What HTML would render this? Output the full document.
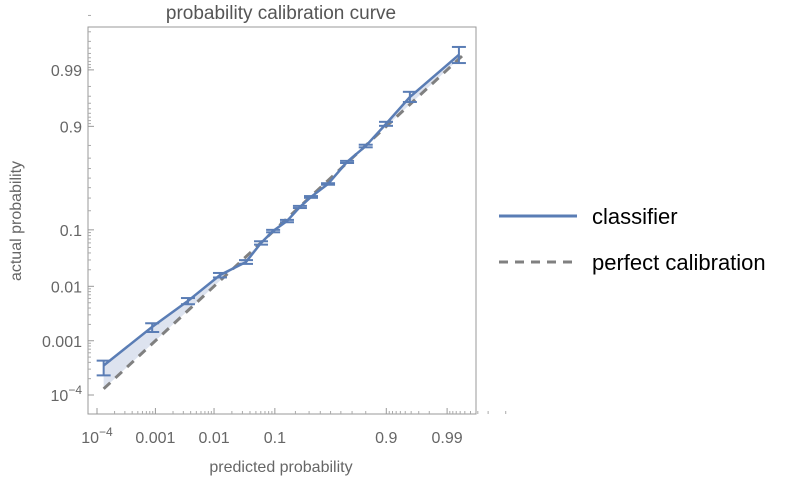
<!DOCTYPE html>
<html><head><meta charset="utf-8">
<style>
html,body{margin:0;padding:0;background:#fff;}
svg{display:block;font-family:"Liberation Sans",Arial,sans-serif;}
</style></head>
<body>
<svg id="chart" width="809" height="482" viewBox="0 0 809 482" xmlns="http://www.w3.org/2000/svg">
  <text x="281" y="19" text-anchor="middle" font-size="19" fill="#555">probability calibration curve</text>
  <rect x="88" y="27" width="388" height="387" fill="none" stroke="#999" stroke-width="1"/>
  <g id="fill-layer"></g>
  <g id="axes-layer"></g>
  <g id="data-layer"></g>
  <text x="281" y="472" text-anchor="middle" font-size="16" fill="#666">predicted probability</text>
  <text transform="translate(21,221) rotate(-90)" text-anchor="middle" font-size="16" fill="#666">actual probability</text>
  <g>
    <line x1="499" y1="216" x2="577" y2="216" stroke="#5a7db5" stroke-width="3"/>
    <text x="592" y="224" font-size="22" fill="#000">classifier</text>
    <line x1="499" y1="262" x2="577" y2="262" stroke="#808080" stroke-width="3" stroke-dasharray="9,7"/>
    <text x="592" y="270" font-size="22" fill="#000">perfect calibration</text>
  </g>
</svg>
<script>
const predicted = [1.3e-4, 8.8e-4, 3.6e-3, 0.0126, 0.0344, 0.0605, 0.094, 0.152, 0.23, 0.316, 0.475, 0.657, 0.80, 0.899, 0.958, 0.9937];
const actual    = [3.5e-4, 1.8e-3, 5.4e-3, 0.016, 0.0276, 0.0598, 0.0957, 0.139, 0.227, 0.31, 0.438, 0.665, 0.796, 0.909, 0.969, 0.9947];
const errLow    = [2.3e-4, 1.45e-3, 4.7e-3, 0.0145, 0.0255, 0.056, 0.091, 0.133, 0.219, 0.302, 0.43, 0.655, 0.787, 0.902, 0.962, 0.9925];
const errHigh   = [4.3e-4, 2.1e-3, 6.1e-3, 0.0175, 0.0298, 0.064, 0.10, 0.145, 0.235, 0.318, 0.446, 0.675, 0.805, 0.916, 0.975, 0.9962];
const tickValues = [1e-4, 0.001, 0.01, 0.1, 0.9, 0.99];
const tickLabels = ["10^-4", "0.001", "0.01", "0.1", "0.9", "0.99"];
const minorTicks = [2e-4,3e-4,4e-4,5e-4,6e-4,7e-4,8e-4,9e-4,0.002,0.003,0.004,0.005,0.006,0.007,0.008,0.009,0.02,0.03,0.04,0.05,0.06,0.07,0.08,0.09,0.2,0.3,0.4,0.5,0.6,0.7,0.8,0.91,0.92,0.93,0.94,0.95,0.96,0.97,0.98,0.991,0.992,0.993,0.994,0.995,0.996,0.997,0.998,0.999];

const NS = "http://www.w3.org/2000/svg";
const logit = p => Math.log(p/(1-p));
const L0 = logit(1e-4);
const xScale = p => 97 + (logit(p) - L0) * 25.36;
const yScale = p => 395 - (logit(p) - L0) * 23.55;

function mk(tag, attrs, parent){
  const el = document.createElementNS(NS, tag);
  for (const k in attrs) el.setAttribute(k, attrs[k]);
  parent.appendChild(el);
  return el;
}
const axes = document.getElementById('axes-layer');
const fillL = document.getElementById('fill-layer');
const dataL = document.getElementById('data-layer');

// ticks
tickValues.forEach((v, i) => {
  const x = xScale(v), y = yScale(v);
  const tx = mk('line', {x1:x, y1:414, x2:x, y2:408, stroke:'#999'}, axes);
  
  
  const ty = mk('line', {x1:88, y1:y, x2:94, y2:y, stroke:'#999'}, axes);
  
  
  const lab = tickLabels[i];
  const xl = mk('text', {x:x, y:443, 'text-anchor':'middle', 'font-size':'16', fill:'#666'}, axes);
  
  
  const yl = mk('text', {x:82, y:y+6, 'text-anchor':'end', 'font-size':'16', fill:'#666'}, axes);
  
  
  [xl, yl].forEach(t => {
    if (lab.indexOf('^') >= 0) {
      const parts = lab.split('^');
      t.appendChild(document.createTextNode(parts[0]));
      const s = mk('tspan', {dy:'-7', 'font-size':'12'}, t);
      s.textContent = parts[1].replace('-', '\u2212');
    } else t.textContent = lab;
  });
});
minorTicks.forEach(v => {
  const x = xScale(v), y = yScale(v);
  const a = mk('line', {x1:x, y1:414, x2:x, y2:411, stroke:'#aaa'}, axes);
  
  
  const b = mk('line', {x1:88, y1:y, x2:91, y2:y, stroke:'#aaa'}, axes);
  
  
});

// shaded area between curve and diagonal
let d = '';
predicted.forEach((p, i) => { d += (i ? 'L' : 'M') + xScale(p) + ',' + yScale(actual[i]); });
for (let i = predicted.length - 1; i >= 0; i--) d += 'L' + xScale(predicted[i]) + ',' + yScale(predicted[i]);
const area = mk('path', {d: d + 'Z', fill:'#dde3ef', stroke:'none'}, fillL);



// perfect calibration line
const pFirst = predicted[0], pLast = 0.995;
const diag = mk('line', {x1:xScale(pFirst), y1:yScale(pFirst), x2:xScale(pLast), y2:yScale(pLast), stroke:'#808080', 'stroke-width':'3', 'stroke-dasharray':'9,7'}, dataL);



// classifier line
let ld = '';
predicted.forEach((p, i) => { ld += (i ? 'L' : 'M') + xScale(p) + ',' + yScale(actual[i]); });
const line = mk('path', {d: ld, fill:'none', stroke:'#5a7db5', 'stroke-width':'2.5'}, dataL);



// error bars
predicted.forEach((p, i) => {
  const x = xScale(p), y1 = yScale(errLow[i]), y2 = yScale(errHigh[i]);
  const g = mk('g', {stroke:'#5a7db5', 'stroke-width':'2'}, dataL);
  
  
  mk('line', {x1:x, y1:y1, x2:x, y2:y2}, g);
  mk('line', {x1:x-7, y1:y1, x2:x+7, y2:y1}, g);
  mk('line', {x1:x-7, y1:y2, x2:x+7, y2:y2}, g);
});
</script>
</body></html>
